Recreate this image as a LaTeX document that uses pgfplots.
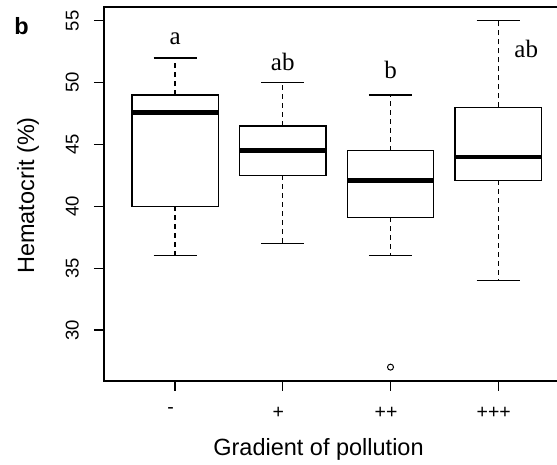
\documentclass[border=0pt]{standalone}
\usepackage{fontspec}
\setmainfont{Liberation Sans}
\newfontfamily\seriffont{Liberation Serif}
\usepackage{pgfplots}
\pgfplotsset{compat=1.18}
\usepgfplotslibrary{statistics}
\begin{document}
\begin{tikzpicture}
\begin{axis}[
  scale only axis,
  width=465.3pt, height=374pt,
  xmin=0.34, xmax=4.66,
  ymin=25.88, ymax=56.12,
  clip=false,
  xtick={1,2,3,4}, xticklabels={-,+,++,+++},
  ytick={30,35,40,45,50,55},
  tick align=outside,
  xtick pos=left, ytick pos=left,
  major tick length=10pt,
  tick style={black, line width=1.2pt},
  axis line style={black, line width=1.2pt},
  /pgf/number format/assume math mode=true,
  tick label style={font=\fontsize{18.5}{21}\selectfont},
  yticklabel style={rotate=90, anchor=south, inner ysep=15pt},
  xticklabel style={font=\fontsize{19.5}{21}\selectfont, yshift=-13pt, xshift=-4.5pt},
  xlabel={Gradient of pollution},
  ylabel={Hematocrit (\%)},
  label style={font=\fontsize{23.5}{26}\selectfont},
  xlabel style={at={(rel axis cs:0.461,0)}, anchor=center, yshift=-68pt},
  ylabel style={at={(rel axis cs:-0.1633,0.496)}, anchor=center},
  boxplot/draw direction=y,
  boxplot/box extend=0.8,
  boxplot/whisker extend=0,
  boxplot/every box/.style={fill=white},
  boxplot/every whisker/.style={dash pattern=on 5pt off 4pt},
  boxplot/every median/.style={line width=4.5pt},
]
\coordinate (O) at (rel axis cs:0,0);
% group "-"
\addplot[black, line width=1.3pt,
  boxplot prepared={draw position=1, lower whisker=36.0, lower quartile=40.0,
    median=47.6, upper quartile=49.0, upper whisker=52.0}] coordinates {};
% group "+"
\addplot[black, line width=1.3pt,
  boxplot prepared={draw position=2, lower whisker=37.0, lower quartile=42.5,
    median=44.5, upper quartile=46.5, upper whisker=50.0}] coordinates {};
% group "++" with one outlier
\addplot[black, line width=1.3pt, mark=o, mark size=3pt, mark options={solid, line width=1pt},
  boxplot prepared={draw position=3, lower whisker=36.0, lower quartile=39.1,
    median=42.1, upper quartile=44.5, upper whisker=49.0}]
  table[row sep=\\, y index=0] {y\\ 27\\};
% group "+++"
\addplot[black, line width=1.3pt,
  boxplot prepared={draw position=4, lower whisker=34.0, lower quartile=42.1,
    median=44.0, upper quartile=48.0, upper whisker=55.0}] coordinates {};
% whisker caps (staples)
\addplot[black, line width=1.3pt, forget plot] coordinates {(0.8,52.0) (1.2,52.0)};
\addplot[black, line width=1.3pt, forget plot] coordinates {(0.8,36.0) (1.2,36.0)};
\addplot[black, line width=1.3pt, forget plot] coordinates {(1.8,50.0) (2.2,50.0)};
\addplot[black, line width=1.3pt, forget plot] coordinates {(1.8,37.0) (2.2,37.0)};
\addplot[black, line width=1.3pt, forget plot] coordinates {(2.8,49.0) (3.2,49.0)};
\addplot[black, line width=1.3pt, forget plot] coordinates {(2.8,36.0) (3.2,36.0)};
\addplot[black, line width=1.3pt, forget plot] coordinates {(3.8,55.0) (4.2,55.0)};
\addplot[black, line width=1.3pt, forget plot] coordinates {(3.8,34.0) (4.2,34.0)};
\node[font=\seriffont\fontsize{25}{28}\selectfont] at (axis cs:1,53.55) {a};
\node[font=\seriffont\fontsize{25}{28}\selectfont] at (axis cs:2,51.7) {ab};
\node[font=\seriffont\fontsize{25}{28}\selectfont] at (axis cs:3,51.0) {b};
\node[font=\seriffont\fontsize{25}{28}\selectfont] at (axis cs:4.26,52.7) {ab};
\node[font=\bfseries\fontsize{23.5}{26}\selectfont] at (rel axis cs:-0.177,0.948) {b};
\end{axis}
\pgfresetboundingbox
\path[use as bounding box] (O) ++(-104pt,-84pt) rectangle ++(557pt,465pt);
\end{tikzpicture}
\end{document}
